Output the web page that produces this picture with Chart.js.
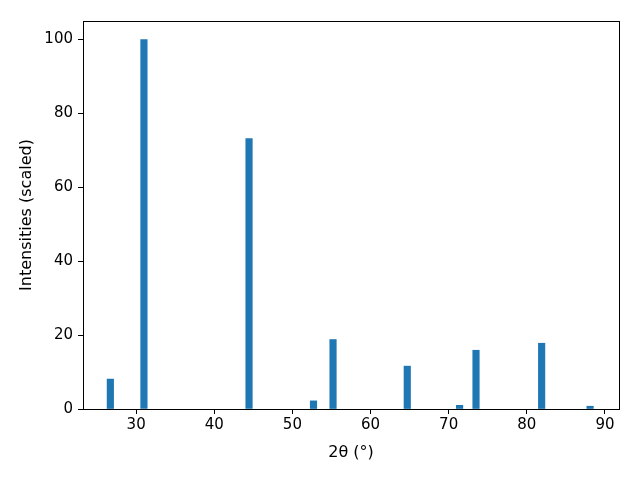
<!DOCTYPE html>
<html>
<head>
<meta charset="utf-8">
<script src="https://cdn.jsdelivr.net/npm/chart.js@4"></script>
<style>
  html, body { margin: 0; padding: 0; background: #fff; }
  #wrap { width: 640px; height: 480px; }
</style>
</head>
<body>
<div id="wrap"><canvas id="xrd" width="640" height="480"></canvas></div>
<script>
// peak positions (2theta, degrees) and scaled intensities
const peakPositions = [26.7, 31.0, 44.45, 52.7, 55.2, 64.7, 71.4, 73.5, 81.9, 88.1];
const peakIntensities = [8.1, 100, 73.2, 2.2, 18.8, 11.6, 1.0, 15.9, 17.8, 0.75];
const xTicks = [30, 40, 50, 60, 70, 80, 90];
const yTicks = [0, 20, 40, 60, 80, 100];

const tickFont = { family: 'DejaVu Sans', size: 15 };
const titleFont = { family: 'DejaVu Sans', size: 16 };

// draws the closed box round the plot area, like matplotlib's spines
const frame = {
  id: 'frame',
  afterDraw(chart) {
    const a = chart.chartArea;
    const ctx = chart.ctx;
    ctx.save();
    ctx.strokeStyle = '#000';
    ctx.lineWidth = 1;
    ctx.strokeRect(a.left + 0.5, a.top + 0.5, a.right - a.left, a.bottom - a.top);
    ctx.restore();
  }
};

const data = {
  datasets: [{
    label: 'peaks',
    data: peakPositions.map((x, i) => ({ x: x, y: peakIntensities[i] })),
    backgroundColor: '#1f77b4',
    borderWidth: 0,
    barThickness: 6.5
  }]
};

const config = {
  type: 'bar',
  data,
  plugins: [frame],
  options: {
    responsive: false,
    animation: false,
    layout: { padding: { top: 21, right: 21, left: 0, bottom: 0 } },
    plugins: {
      legend: { display: false },
      tooltip: { enabled: false }
    },
    scales: {
      x: {
        type: 'linear',
        min: 23.2,
        max: 91.8,
        offset: false,
        afterBuildTicks: (s) => { s.ticks = xTicks.map(v => ({ value: v })); },
        afterFit: (s) => { s.height = 71; },
        grid: { offset: false, drawOnChartArea: false, drawTicks: true, tickLength: 5, color: '#000' },
        border: { display: false },
        ticks: { color: '#000', font: tickFont, padding: 2, maxRotation: 0 },
        title: {
          display: true,
          text: '2θ (°)',
          color: '#000',
          font: titleFont,
          padding: { top: 0, bottom: 18 }
        }
      },
      y: {
        min: 0,
        max: 105,
        afterBuildTicks: (s) => { s.ticks = yTicks.map(v => ({ value: v })); },
        afterFit: (s) => { s.width = 83; },
        grid: { drawOnChartArea: false, drawTicks: true, tickLength: 5, color: '#000' },
        border: { display: false },
        ticks: { color: '#000', font: tickFont, padding: 5 },
        title: {
          display: true,
          text: 'Intensities (scaled)',
          color: '#000',
          font: titleFont,
          padding: { top: 17, bottom: 0 }
        }
      }
    }
  }
};

const ctx = document.getElementById('xrd').getContext('2d');
const myChart = new Chart(ctx, config);
</script>
</body>
</html>
